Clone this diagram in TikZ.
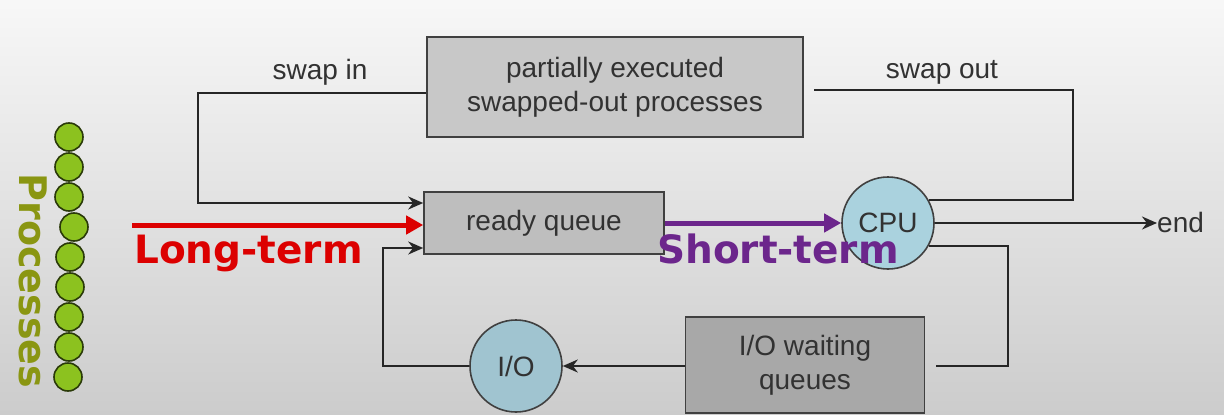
\documentclass[tikz,border=0pt]{standalone}
\usepackage{fontspec}
\setmainfont{Liberation Sans}
\newfontfamily\headfont{DejaVu Sans}
\usepackage{tikz}
\usetikzlibrary{arrows.meta,positioning,calc}
\usepackage{xcolor}
\definecolor{boxgray}{RGB}{200,200,200}
\definecolor{readygray}{RGB}{190,190,190}
\definecolor{waitgray}{RGB}{168,168,168}
\definecolor{cpublue}{RGB}{170,210,222}
\definecolor{ioblue}{RGB}{160,196,208}
\definecolor{ltred}{RGB}{220,0,0}
\definecolor{stpurple}{RGB}{108,38,140}
\definecolor{procolive}{RGB}{138,150,18}
\definecolor{ballgreen}{RGB}{140,194,31}
\definecolor{txtgray}{RGB}{50,50,50}
\newcommand{\lblsize}{\fontsize{28}{34}\selectfont}

\begin{document}
\begin{tikzpicture}[x=1pt, y=-1pt,
  qbox/.style={draw=black!75, line width=1.6pt, text=txtgray, align=center, font=\lblsize},
  unit/.style={circle, draw=black!75, line width=1.6pt, minimum size=92pt, text=txtgray, font=\lblsize},
  flow/.style={line width=2.2pt, black!85},
  arr/.style={flow, -{Stealth[length=15pt,width=13pt]}},
  sched/.style={line width=5pt, -{Triangle[length=17pt,width=18pt]}},
  tag/.style={text=txtgray, font=\lblsize},
  bigtag/.style={font=\headfont\bfseries\fontsize{39}{44}\selectfont, anchor=base west, inner sep=0pt}]
\useasboundingbox (0,0) rectangle (1224,415);
\shade[top color=black!3, bottom color=black!20] (0,0) rectangle (1224,415);

% queues and servers
\node[qbox, fill=boxgray, minimum width=376pt, minimum height=100pt] (swapped) at (615,87) {partially executed\\swapped-out processes};
\node[qbox, fill=readygray, minimum width=240pt, minimum height=62pt] (ready) at (544,223) {ready queue};
\node[unit, fill=cpublue] (cpu) at (888,223) {CPU};
\node[qbox, fill=waitgray, minimum width=239pt, minimum height=96pt] (iowait) at (805,365) {I/O waiting\\queues};
\node[unit, fill=ioblue] (io) at (516,366) {I/O};
\node[tag, anchor=west, inner sep=0pt] (done) at (1157,222) {end};
\node[tag] (swapin) at (320,72) {swap in};
\node[tag] (swapout) at (942,72) {swap out};

% bends
\coordinate (inL) at (198,93);
\coordinate (outR) at (1073,90);
\coordinate (waitR) at (1008,366);
\coordinate (backL) at (383,248);
\coordinate (ltStart) at (132,225);

\draw[arr] (swapped.west|-inL) -- (inL) |- ([yshift=20pt]ready.west);
\draw[flow, shorten >=10pt] (cpu.29) -| (outR) -- (swapped.east|-outR);
\draw[arr] (cpu.east) -- (cpu.east-|done.west);
\draw[flow, shorten >=11pt] (cpu.-29) -| (waitR) -- (iowait.east|-waitR);
\draw[arr] (iowait.west|-io.east) -- (io.east);
\draw[arr] (io.west) -| (backL) -- (ready.west|-backL);

% schedulers
\draw[sched, ltred] (ltStart) -- (ready.west|-ltStart);
\node[bigtag, text=ltred] (longterm) at (134,263) {Long-term};
\draw[sched, stpurple] (ready.east) -- (cpu.west);
\node[bigtag, text=stpurple] (shortterm) at (657,263) {Short-term};

% processes
\foreach \dx [count=\i] in {0,0,0,5,1,1,0,0,-1}
  \filldraw[fill=ballgreen, draw=black!70!ballgreen, line width=1.6pt] (69+\dx,107+30*\i) circle (14pt);
\node[rotate=-90, text=procolive, font=\headfont\bfseries\fontsize{38}{42}\selectfont, inner sep=0pt] (procs) at (33,281) {Processes};
\end{tikzpicture}
\end{document}
